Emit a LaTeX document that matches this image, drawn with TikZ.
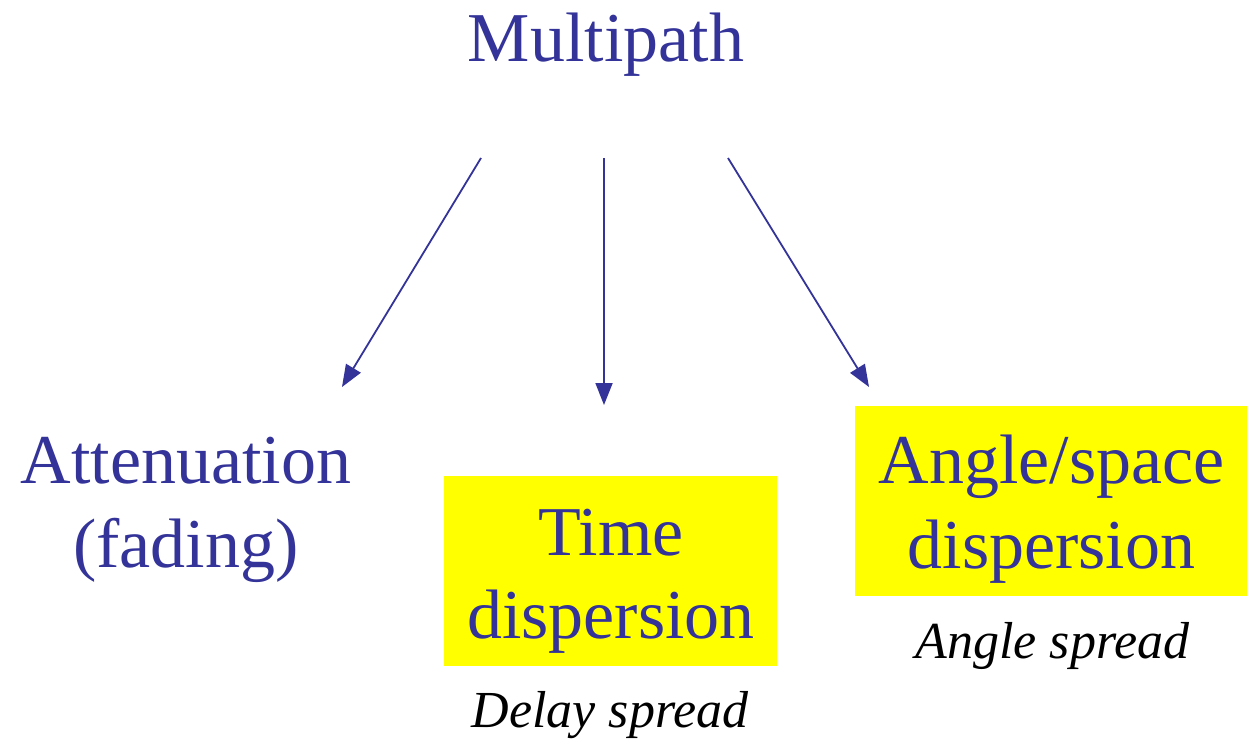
\documentclass[tikz,border=0pt]{standalone}
\usepackage{fontspec}
\setmainfont{Liberation Serif}
\usetikzlibrary{arrows.meta}
\definecolor{navy}{HTML}{333399}
\definecolor{hilite}{HTML}{FFFF00}
\tikzset{
  big/.style={text=navy, font=\fontsize{70}{84}\selectfont, anchor=base, inner sep=0pt},
  small/.style={text=black, font=\fontsize{52}{60}\selectfont\itshape, anchor=base, inner sep=0pt},
  hbox/.style={fill=hilite, draw=none, inner sep=0pt},
  conn/.style={draw=navy, line width=1.8pt, -{Triangle[length=22pt,width=17pt]}}
}
\begin{document}
\begin{tikzpicture}[x=1pt,y=-1pt]
\useasboundingbox (0,0) rectangle (1252,741);
\node[hbox, minimum width=333pt, minimum height=190pt] (tbox) at (610.5,571) {};
\node[hbox, minimum width=392pt, minimum height=190pt] (abox) at (1051,501) {};
\node[big] (title) at (606,62) {Multipath};
\node[big] (att1) at (186,483) {Attenuation};
\node[big] (att2) at (186,567) {(fading)};
\node[big] (time1) at (611,555) {Time};
\node[big] (time2) at (611,638) {dispersion};
\node[big] (ang1) at (1051.5,483) {Angle/space};
\node[big] (ang2) at (1051.5,568) {dispersion};
\node[small] (delay) at (610,727) {Delay spread};
\node[small] (aspread) at (1052.5,658) {Angle spread};
\coordinate (s1) at (481,158);
\coordinate (e1) at (342,387);
\coordinate (s2) at (604,158);
\coordinate (e2) at (604,405);
\coordinate (s3) at (728,158);
\coordinate (e3) at (869,387);
\draw[conn] (s1) -- (e1);
\draw[conn] (s2) -- (e2);
\draw[conn] (s3) -- (e3);
\end{tikzpicture}
\end{document}
